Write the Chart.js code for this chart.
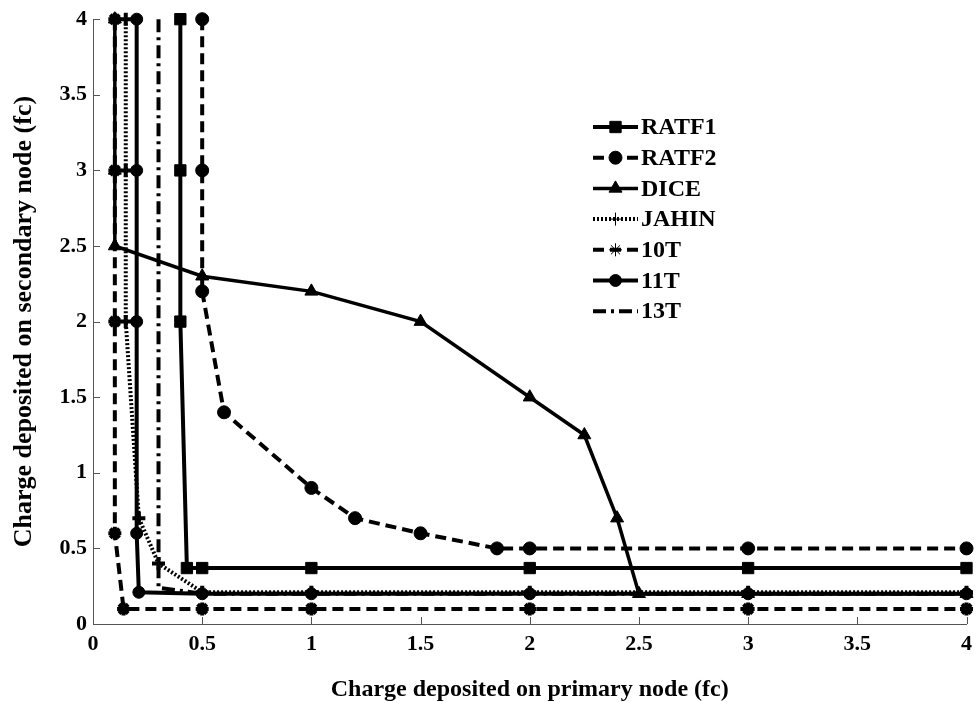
<!DOCTYPE html>
<html>
<head>
<meta charset="utf-8">
<script src="https://cdn.jsdelivr.net/npm/chart.js@4/dist/chart.umd.min.js"></script>
<style>
    body { margin: 0; background: #fff; }
    #box { width: 979px; height: 702px; }
</style>
</head>
<body>
<div id="box"><canvas id="chart1" width="979" height="702"></canvas></div>
<script>
// dados (x = carga no nó primário, y = carga no nó secundário)
let ratf1X = [0.4, 0.4, 0.4, 0.43, 0.5, 1, 2, 3, 4];
let ratf1Y = [4, 3, 2, 0.37, 0.37, 0.37, 0.37, 0.37, 0.37];

let ratf2X = [0.5, 0.5, 0.5, 0.6, 1, 1.2, 1.5, 1.85, 2, 3, 4];
let ratf2Y = [4, 3, 2.2, 1.4, 0.9, 0.7, 0.6, 0.5, 0.5, 0.5, 0.5];

let diceX = [0.1, 0.1, 0.1, 0.5, 1, 1.5, 2, 2.25, 2.4, 2.5, 3, 4];
let diceY = [4, 3, 2.5, 2.3, 2.2, 2.0, 1.5, 1.25, 0.7, 0.2, 0.2, 0.2];

let jahinX = [0.15, 0.15, 0.15, 0.21, 0.3, 0.5, 1, 2, 3, 4];
let jahinY = [4, 3, 2, 0.7, 0.4, 0.21, 0.21, 0.21, 0.21, 0.21];

let t10X = [0.1, 0.1, 0.1, 0.1, 0.14, 0.5, 1, 2, 3, 4];
let t10Y = [4, 3, 2, 0.6, 0.1, 0.1, 0.1, 0.1, 0.1, 0.1];

let t11X = [0.2, 0.2, 0.2, 0.2, 0.21, 0.5, 1, 2, 3, 4];
let t11Y = [4, 3, 2, 0.6, 0.21, 0.2, 0.2, 0.2, 0.2, 0.2];

let t13X = [0.3, 0.3, 0.5, 4];
let t13Y = [4, 0.24, 0.2, 0.2];

let xTicks = [0, 0.5, 1, 1.5, 2, 2.5, 3, 3.5, 4];
let yTicks = [0, 0.5, 1, 1.5, 2, 2.5, 3, 3.5, 4];

const fonte = '"Liberation Serif", "Times New Roman", serif';

function pontos(xs, ys) {
    let lista = [];
    for (let i = 0; i < xs.length; i++) {
        lista.push({ x: xs[i], y: ys[i] });
    }
    return lista;
}

function serie(nome, xs, ys, tracejado, largura, estilo, raio) {
    return {
        label: nome,
        data: pontos(xs, ys),
        showLine: true,
        borderColor: '#000',
        backgroundColor: '#000',
        borderWidth: largura,
        borderDash: tracejado,
        pointStyle: estilo,
        pointRadius: raio,
        pointBorderWidth: (estilo == 'cross' || estilo == 'star') ? 4 : 1,
        pointBorderColor: '#000',
        pointBackgroundColor: '#000',
        tension: 0,
        clip: false
    };
}

let datasets = [
    serie('RATF1', ratf1X, ratf1Y, [], 4, 'rect', 8),
    serie('RATF2', ratf2X, ratf2Y, [11, 6], 4, 'circle', 6.5),
    serie('DICE', diceX, diceY, [], 3.5, 'triangle', 7.5),
    serie('JAHIN', jahinX, jahinY, [2, 2], 4, 'cross', 6.5),
    serie('10T', t10X, t10Y, [11, 6], 4, 'star', 6.5),
    serie('11T', t11X, t11Y, [], 4, 'circle', 6),
    serie('13T', t13X, t13Y, [13, 5, 3, 5], 4, false, 0)
];

// sem casas decimais desnecessárias: 4 e não 4.0
function rotulo(valor) {
    return String(valor);
}

// marcas dos ticks para dentro e legenda dentro da área
const extras = {
    id: 'extras',
    afterDraw(chart) {
        const ctx = chart.ctx;
        const sx = chart.scales.x;
        const sy = chart.scales.y;
        const area = chart.chartArea;
        ctx.save();
        ctx.strokeStyle = '#555';
        ctx.lineWidth = 1;
        ctx.beginPath();
        xTicks.forEach(function (v) {
            let px = Math.round(sx.getPixelForValue(v)) + 0.5;
            ctx.moveTo(px, area.bottom);
            ctx.lineTo(px, area.bottom - 7);
        });
        yTicks.forEach(function (v) {
            let py = Math.round(sy.getPixelForValue(v)) + 0.5;
            ctx.moveTo(area.left, py);
            ctx.lineTo(area.left + 7, py);
        });
        ctx.stroke();

        // legenda
        let lx0 = 593, lx1 = 638, ly = 127, passo = 30.7;
        ctx.font = 'bold 24px ' + fonte;
        ctx.textBaseline = 'middle';
        ctx.fillStyle = '#000';
        chart.data.datasets.forEach(function (ds, i) {
            let y = ly + i * passo;
            ctx.save();
            ctx.strokeStyle = '#000';
            ctx.lineWidth = ds.borderWidth;
            ctx.setLineDash(ds.borderDash);
            ctx.beginPath();
            ctx.moveTo(lx0, y);
            ctx.lineTo(lx1, y);
            ctx.stroke();
            ctx.restore();
            if (ds.pointStyle) {
                ctx.save();
                ctx.fillStyle = '#000';
                ctx.strokeStyle = '#000';
                Chart.helpers.drawPoint(ctx, {
                    pointStyle: ds.pointStyle,
                    radius: ds.pointRadius,
                    borderWidth: ds.pointBorderWidth,
                    rotation: 0
                }, (lx0 + lx1) / 2, y);
                ctx.restore();
            }
            ctx.fillText(ds.label, 641, y + 1);
        });
        ctx.restore();
    }
};

const config = {
    type: 'scatter',
    data: { datasets: datasets },
    options: {
        responsive: false,
        animation: false,
        layout: { padding: { left: 0, top: 14, right: 7, bottom: 0 } },
        plugins: {
            legend: { display: false },
            tooltip: { enabled: false }
        },
        scales: {
            x: {
                type: 'linear',
                min: 0,
                max: 4,
                afterFit: function (s) { s.height = 78; },
                afterBuildTicks: function (s) { s.ticks = xTicks.map(v => ({ value: v })); },
                grid: { display: false, drawTicks: false },
                border: { display: true, color: '#555', width: 1 },
                ticks: {
                    padding: 7,
                    color: '#000',
                    maxRotation: 0,
                    callback: rotulo,
                    font: { family: fonte, size: 22, weight: 'bold' }
                },
                title: {
                    display: true,
                    text: 'Charge deposited on primary node (fc)',
                    color: '#000',
                    padding: { top: 0, bottom: 0 },
                    font: { family: fonte, size: 24, weight: 'bold', lineHeight: 1 }
                }
            },
            y: {
                type: 'linear',
                min: 0,
                max: 4,
                afterFit: function (s) { s.width = 93; },
                afterBuildTicks: function (s) { s.ticks = yTicks.map(v => ({ value: v })); },
                grid: { display: false, drawTicks: false },
                border: { display: true, color: '#555', width: 1 },
                ticks: {
                    padding: 6,
                    color: '#000',
                    callback: rotulo,
                    font: { family: fonte, size: 22, weight: 'bold' }
                },
                title: {
                    display: true,
                    text: 'Charge deposited on secondary node (fc)',
                    color: '#000',
                    padding: { top: 11, bottom: 0 },
                    font: { family: fonte, size: 26, weight: 'bold', lineHeight: 1 }
                }
            }
        }
    },
    plugins: [extras]
};

var ctx = document.getElementById("chart1").getContext("2d");
let myChart = new Chart(ctx, config);
</script>
</body>
</html>
